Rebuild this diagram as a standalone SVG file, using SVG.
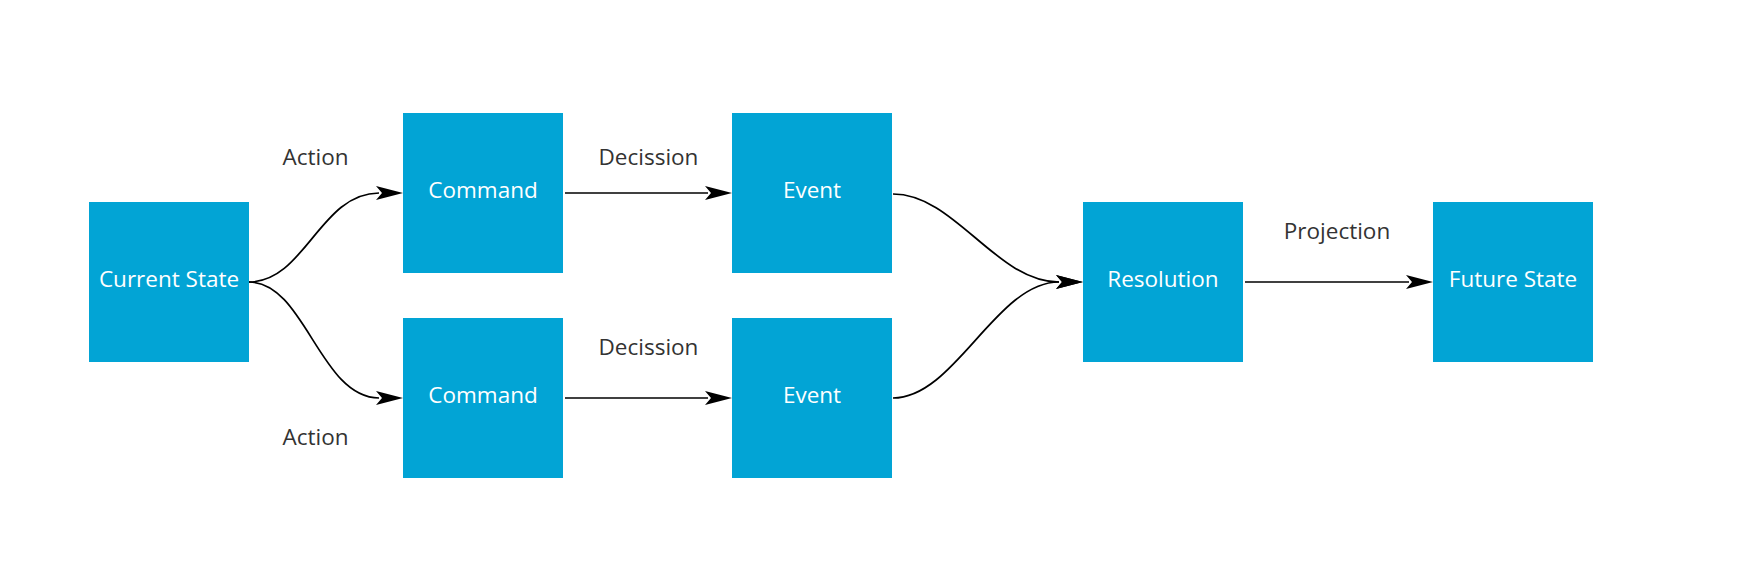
<svg xmlns="http://www.w3.org/2000/svg" width="1763" height="566" viewBox="0 0 1763 566">
<style>
.box{fill:#02A4D5;}
.nt{font-family:"Open Sans","Liberation Sans",sans-serif;font-size:22.5px;fill:#ffffff;text-anchor:middle;}
.lb{font-family:"Open Sans","Liberation Sans",sans-serif;font-size:22.5px;fill:#333333;text-anchor:middle;}
.edge{fill:none;stroke:#000000;stroke-width:1.7;}
</style>
<defs>
<marker id="arrow" markerUnits="userSpaceOnUse" viewBox="0 0 27 14" markerWidth="27" markerHeight="14" refX="3" refY="7" orient="auto">
<path d="M0,0 L27,7 L0,14 L6,7 Z" fill="#000000"/>
</marker>
</defs>
<rect width="1763" height="566" fill="#ffffff"/>
<g id="connectors">
<path class="edge" d="M249,282 C305,282 320,193 379,193" marker-end="url(#arrow)"/>
<path class="edge" d="M249,282 C305,282 320,398 379,398" marker-end="url(#arrow)"/>
<path class="edge" d="M565,193 L708,193" marker-end="url(#arrow)"/>
<path class="edge" d="M565,398 L708,398" marker-end="url(#arrow)"/>
<path class="edge" d="M893,194 C955,194 996,282 1059,282" marker-end="url(#arrow)"/>
<path class="edge" d="M893,398 C955,398 996,282 1059,282" marker-end="url(#arrow)"/>
<path class="edge" d="M1245,282 L1409,282" marker-end="url(#arrow)"/>
<text class="lb" x="315.5" y="165">Action</text>
<text class="lb" x="315.5" y="444.5">Action</text>
<text class="lb" x="648.5" y="165">Decission</text>
<text class="lb" x="648.5" y="354.5">Decission</text>
<text class="lb" x="1337" y="239">Projection</text>
</g>
<g id="current-state"><rect class="box" x="89" y="202" width="160" height="160"/><text class="nt" x="169" y="287">Current State</text></g>
<g id="command-top"><rect class="box" x="403" y="113" width="160" height="160"/><text class="nt" x="483" y="198">Command</text></g>
<g id="command-bottom"><rect class="box" x="403" y="318" width="160" height="160"/><text class="nt" x="483" y="403">Command</text></g>
<g id="event-top"><rect class="box" x="732" y="113" width="160" height="160"/><text class="nt" x="812" y="198">Event</text></g>
<g id="event-bottom"><rect class="box" x="732" y="318" width="160" height="160"/><text class="nt" x="812" y="403">Event</text></g>
<g id="resolution"><rect class="box" x="1083" y="202" width="160" height="160"/><text class="nt" x="1163" y="287">Resolution</text></g>
<g id="future-state"><rect class="box" x="1433" y="202" width="160" height="160"/><text class="nt" x="1513" y="287">Future State</text></g>
</svg>
